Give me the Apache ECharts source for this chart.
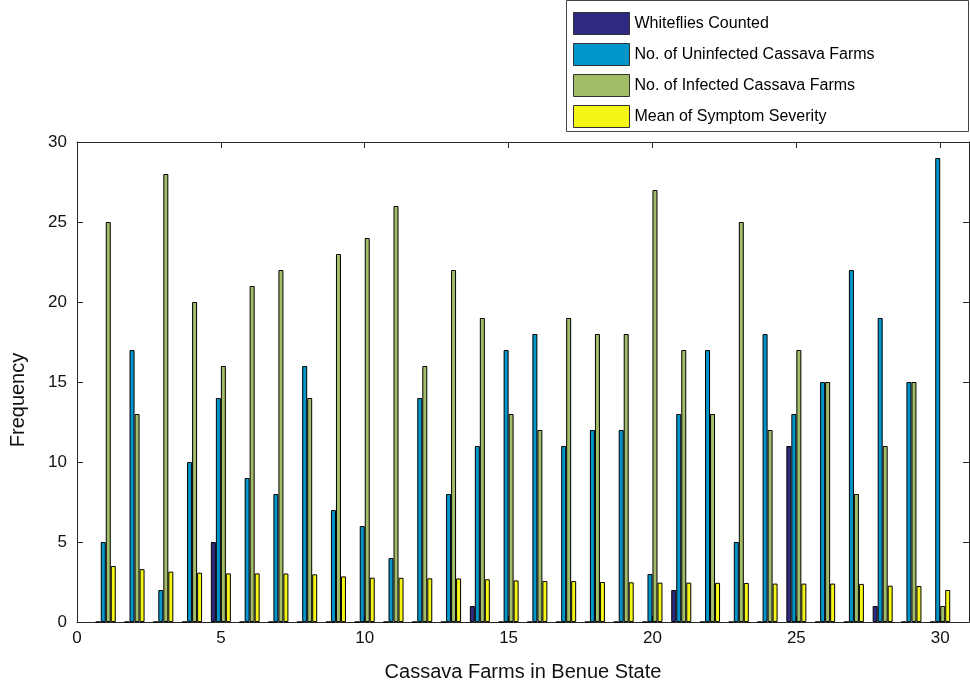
<!DOCTYPE html>
<html>
<head>
<meta charset="utf-8">
<script src="https://cdn.jsdelivr.net/npm/echarts@6/dist/echarts.min.js"></script>
<style>
  html, body { margin: 0; padding: 0; background: #fff; }
  #chart { width: 970px; height: 682px; }
</style>
</head>
<body>
<div id="chart"></div>
<script>
// Farm numbers 1..30
const farms = [1,2,3,4,5,6,7,8,9,10,11,12,13,14,15,16,17,18,19,20,21,22,23,24,25,26,27,28,29,30];

const whiteflies = [0,0,0,0,5,0,0,0,0,0,0,0,0,1,0,0,0,0,0,0,2,0,0,0,11,0,0,1,0,0];
const uninfected = [5,17,2,10,14,9,8,16,7,6,4,14,8,11,17,18,11,12,12,3,13,17,5,18,13,15,22,19,15,29];
const infected   = [25,13,28,20,16,21,22,14,23,24,26,16,22,19,13,12,19,18,18,27,17,13,25,12,17,15,8,11,15,1];
const severity   = [3.5,3.3,3.15,3.08,3.04,3.04,3.03,2.98,2.85,2.77,2.76,2.73,2.72,2.67,2.6,2.56,2.56,2.5,2.48,2.46,2.46,2.45,2.44,2.4,2.4,2.4,2.38,2.27,2.25,2.0];

const seriesNames = ['Whiteflies Counted', 'No. of Uninfected Cassava Farms', 'No. of Infected Cassava Farms', 'Mean of Symptom Severity'];
const seriesColors = ['#2e2a82', '#0096cc', '#a2bc68', '#f5f516'];
const seriesValues = [whiteflies, uninfected, infected, severity];

const xTicks = [0, 5, 10, 15, 20, 25, 30];
const yTicks = [0, 5, 10, 15, 20, 25, 30];

const font = 'Liberation Sans, Arial, sans-serif';
const axisColor = '#262626';

const chart = echarts.init(document.getElementById('chart'), null, { renderer: 'canvas' });

const series = seriesNames.map((name, i) => ({
  name: name,
  type: 'bar',
  xAxisIndex: 0,
  yAxisIndex: 0,
  barWidth: 5,
  barGap: '0%',
  itemStyle: { color: seriesColors[i], borderColor: '#000', borderWidth: 1 },
  emphasis: { disabled: true },
  data: farms.map((f, j) => [f, seriesValues[i][j]])
}));

const baseXAxis = {
  type: 'value',
  min: 0,
  max: 31,
  interval: 5,
  splitLine: { show: false },
  axisLine: { show: true, onZero: false, lineStyle: { color: axisColor, width: 1 } },
  axisTick: { show: true, inside: true, length: 6, lineStyle: { color: axisColor } }
};
const baseYAxis = {
  type: 'value',
  min: 0,
  max: 30,
  interval: 5,
  splitLine: { show: false },
  axisLine: { show: true, onZero: false, lineStyle: { color: axisColor, width: 1 } },
  axisTick: { show: true, inside: true, length: 6, lineStyle: { color: axisColor } }
};

chart.setOption({
  animation: false,
  backgroundColor: '#fff',
  textStyle: { fontFamily: font },
  grid: { left: 77, right: 1, top: 142, bottom: 60, containLabel: false, outerBoundsMode: 'none' },
  legend: {
    orient: 'vertical',
    left: 568,
    top: 7,
    itemWidth: 56,
    itemHeight: 22,
    itemGap: 8,
    selectedMode: false,
    textStyle: { fontFamily: font, fontSize: 16, color: '#000' },
    data: seriesNames.map((n, i) => ({
      name: n,
      icon: 'rect',
      itemStyle: { color: seriesColors[i], borderColor: '#333', borderWidth: 1 }
    }))
  },
  graphic: [{
    type: 'rect',
    shape: { x: 566.5, y: 0.5, width: 402, height: 131 },
    style: { fill: 'none', stroke: '#444', lineWidth: 1 },
    silent: true,
    z: 100
  }],
  xAxis: [
    Object.assign({}, baseXAxis, {
      position: 'bottom',
      name: 'Cassava Farms in Benue State',
      nameLocation: 'middle',
      nameGap: 40,
      nameTextStyle: { fontFamily: font, fontSize: 20, color: '#111', verticalAlign: 'top' },
      axisLabel: {
        fontFamily: font, fontSize: 17, color: '#111', margin: 8,
        formatter: v => (xTicks.indexOf(v) >= 0 ? String(v) : '')
      }
    }),
    Object.assign({}, baseXAxis, { position: 'top', axisLabel: { show: false } })
  ],
  yAxis: [
    Object.assign({}, baseYAxis, {
      position: 'left',
      name: 'Frequency',
      nameLocation: 'middle',
      nameGap: 49,
      nameRotate: 90,
      nameTextStyle: { fontFamily: font, fontSize: 20, color: '#111', padding: [0, 36, 0, 0] },
      axisLabel: {
        fontFamily: font, fontSize: 17, color: '#111', margin: 10,
        formatter: v => (yTicks.indexOf(v) >= 0 ? String(v) : '')
      }
    }),
    Object.assign({}, baseYAxis, { position: 'right', axisLabel: { show: false } })
  ],
  series: series
});
</script>
</body>
</html>
